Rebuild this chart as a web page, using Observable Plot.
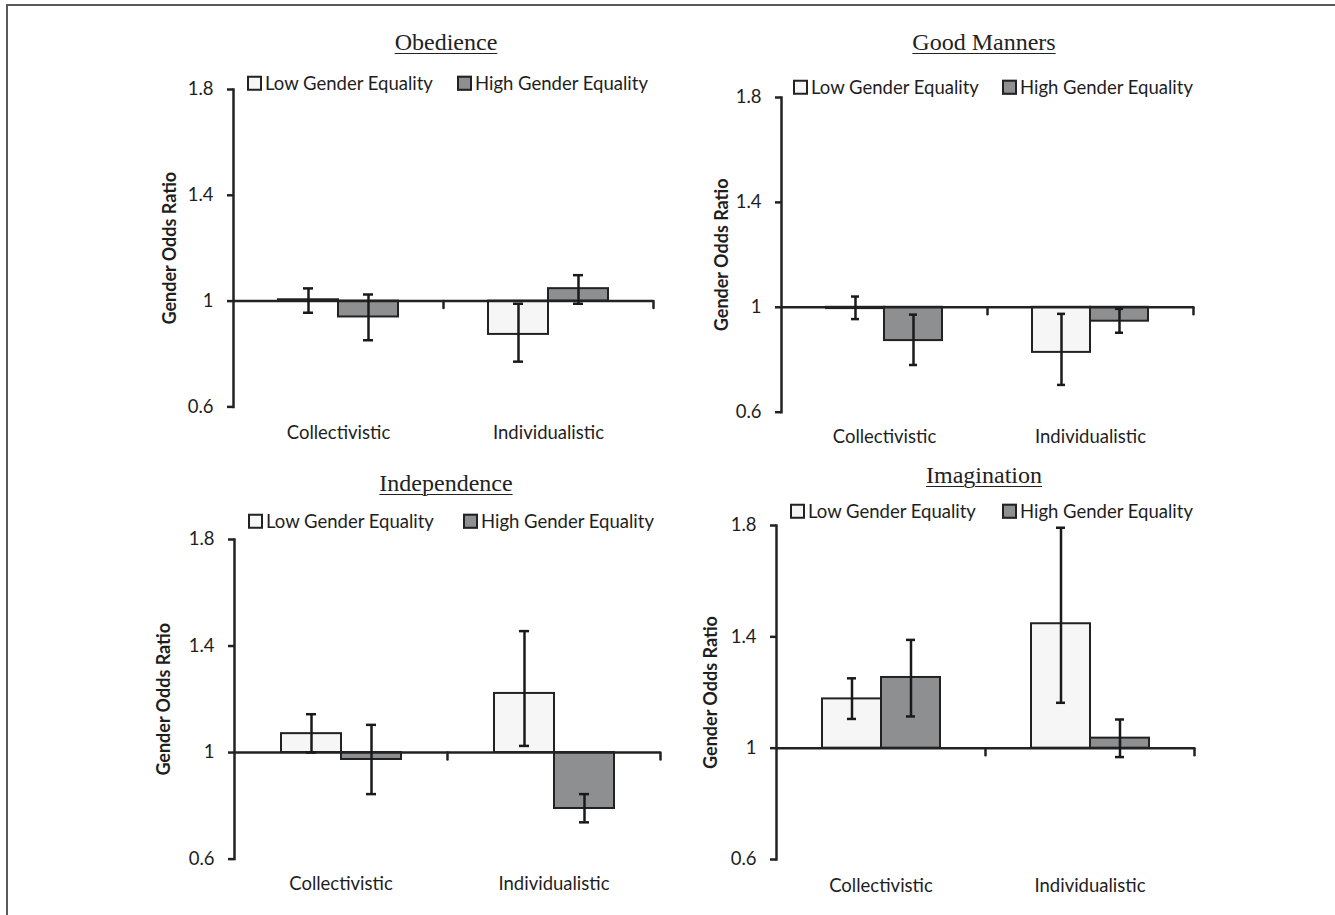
<!DOCTYPE html>
<html>
<head>
<meta charset="utf-8">
<script src="https://cdn.jsdelivr.net/npm/d3@7"></script>
<script src="https://cdn.jsdelivr.net/npm/@observablehq/plot@0.6"></script>
<style>
  html, body { margin: 0; padding: 0; background: #fff; overflow: hidden; }
  body { width: 1335px; height: 915px; position: relative; font-family: Lato, "Open Sans", sans-serif; color: #1e1e1e; }
  .border { position: absolute; left: 6px; top: 4px; width: 1329px; height: 911px; box-sizing: border-box; border-top: 2px solid #5a5a5a; border-left: 2px solid #5a5a5a; }
  .title { position: absolute; font-family: "Liberation Serif", "Times New Roman", serif; font-size: 24px; text-decoration: underline; text-decoration-thickness: 1px; text-underline-offset: 3px; color: #222; white-space: nowrap; transform: translate(-50%, -50%); line-height: 1; }
  .lg { position: absolute; display: flex; align-items: center; transform: translateY(-50%); white-space: nowrap; font-size: 18.5px; line-height: 1; }
  .sw { width: 11px; height: 11px; border: 2px solid #222; margin-right: 3px; }
  .chart { position: absolute; }
  .chart svg { overflow: visible; }
  g[aria-label="y-axis label"] text { font-weight: 700; font-size: 18px; }
</style>
</head>
<body>
<div class="border"></div>
<script>
// ---- data ----
const panelTitles = ["Obedience", "Good Manners", "Independence", "Imagination"];
const categories = ["Collectivistic", "Individualistic"];
const groups = ["Low Gender Equality", "High Gender Equality"];
const groupColors = ["#f6f6f6", "#8e8f91"];
const yTicks = [0.6, 1, 1.4, 1.8];
const baseline = 1;

// order: Collectivistic-Low, Collectivistic-High, Individualistic-Low, Individualistic-High
const obedienceRatio = [1.005, 0.940, 0.874, 1.047];
const obedienceLower = [0.956, 0.852, 0.771, 0.990];
const obedienceUpper = [1.048, 1.025, 0.990, 1.098];

const mannersRatio = [0.995, 0.873, 0.828, 0.947];
const mannersLower = [0.955, 0.780, 0.704, 0.903];
const mannersUpper = [1.041, 0.972, 0.975, 0.994];

const independenceRatio = [1.071, 0.974, 1.222, 0.790];
const independenceLower = [1.000, 0.844, 1.025, 0.738];
const independenceUpper = [1.144, 1.104, 1.456, 0.844];

const imaginationRatio = [1.177, 1.254, 1.447, 1.036];
const imaginationLower = [1.105, 1.114, 1.163, 0.968];
const imaginationUpper = [1.251, 1.389, 1.792, 1.103];

const panelRatios = [obedienceRatio, mannersRatio, independenceRatio, imaginationRatio];
const panelLowers = [obedienceLower, mannersLower, independenceLower, imaginationLower];
const panelUppers = [obedienceUpper, mannersUpper, independenceUpper, imaginationUpper];

// ---- layout (pixel positions of each panel) ----
const layout = [
  {fl: 233, fr: 653,  ft: 89.3,  fb: 406.7, tx: 446, ty: 42,  ly: 83,  lowX: 247, highX: 457,  labelOffset: 70, catPad: 19},
  {fl: 781, fr: 1193, ft: 97.3,  fb: 412,   tx: 984, ty: 42,  ly: 87,  lowX: 793, highX: 1002, labelOffset: 66, catPad: 18},
  {fl: 233, fr: 660,  ft: 538.7, fb: 858.3, tx: 446, ty: 483, ly: 521, lowX: 248, highX: 463,  labelOffset: 77, catPad: 18},
  {fl: 775, fr: 1194, ft: 525,   fb: 859,   tx: 984, ty: 475, ly: 511, lowX: 790, highX: 1002, labelOffset: 72, catPad: 19}
];

const tickShape = {draw(context, l) { context.moveTo(0, 0); context.lineTo(0, -l); }};
const ML = 100, MR = 14, MT = 14, MB = 50;

panelTitles.forEach((title, p) => {
  const L = layout[p];
  const rows = [0, 1, 2, 3].map(i => ({
    category: categories[Math.floor(i / 2)],
    group: groups[i % 2],
    value: panelRatios[p][i],
    lower: panelLowers[p][i],
    upper: panelUppers[p][i]
  }));

  // title
  const t = document.createElement("div");
  t.className = "title";
  t.textContent = title;
  t.style.left = L.tx + "px";
  t.style.top = L.ty + "px";
  document.body.appendChild(t);

  // legend
  [L.lowX, L.highX].forEach((x, g) => {
    const lg = document.createElement("div");
    lg.className = "lg";
    lg.style.left = x + "px";
    lg.style.top = L.ly + "px";
    const sw = document.createElement("span");
    sw.className = "sw";
    sw.style.background = groupColors[g];
    const tx = document.createElement("span");
    tx.textContent = groups[g];
    lg.appendChild(sw);
    lg.appendChild(tx);
    document.body.appendChild(lg);
  });

  const width = L.fr - L.fl + ML + MR;
  const height = L.fb - L.ft + MT + MB;

  const chart = Plot.plot({
    width, height,
    marginLeft: ML, marginRight: MR, marginTop: MT, marginBottom: MB,
    style: {fontFamily: "Lato, 'Open Sans', sans-serif", fontSize: "18.5px", color: "#1e1e1e", background: "transparent"},
    fx: {domain: categories, padding: 0, axis: null},
    x: {domain: groups, paddingInner: 0, paddingOuter: 0.75, axis: null},
    y: {domain: [0.6, 1.8], axis: null},
    color: {domain: groups, range: groupColors},
    marks: [
      Plot.barY(rows, {fx: "category", x: "group", y1: () => baseline, y2: "value", fill: "group", stroke: "#222", strokeWidth: 2}),
      Plot.ruleY([baseline], {stroke: "#222", strokeWidth: 2.5}),
      Plot.vector([baseline], {y: d => d, frameAnchor: "right", length: 7, rotate: 180, anchor: "start", shape: tickShape, stroke: "#222", strokeWidth: 2.5}),
      Plot.ruleX(rows, {fx: "category", x: "group", y1: "lower", y2: "upper", stroke: "#1a1a1a", strokeWidth: 2.5}),
      Plot.tickY(rows, {fx: "category", x: "group", y: "lower", insetLeft: 25, insetRight: 25, stroke: "#1a1a1a", strokeWidth: 2.5}),
      Plot.tickY(rows, {fx: "category", x: "group", y: "upper", insetLeft: 25, insetRight: 25, stroke: "#1a1a1a", strokeWidth: 2.5}),
      Plot.frame({anchor: "left", facetAnchor: "left", stroke: "#222", strokeWidth: 2.5}),
      Plot.axisY({ticks: yTicks, tickFormat: d => String(d), tickSize: 6, tickPadding: 14, stroke: "#222", strokeWidth: 2.5,
                  label: "Gender Odds Ratio", labelAnchor: "center", labelOffset: L.labelOffset, labelArrow: false}),
      Plot.axisFx({anchor: "bottom", tickSize: 0, tickPadding: L.catPad, label: null})
    ]
  });

  const wrap = document.createElement("div");
  wrap.className = "chart";
  wrap.style.left = (L.fl - ML) + "px";
  wrap.style.top = (L.ft - MT) + "px";
  wrap.appendChild(chart);
  document.body.appendChild(wrap);
});
</script>
</body>
</html>
